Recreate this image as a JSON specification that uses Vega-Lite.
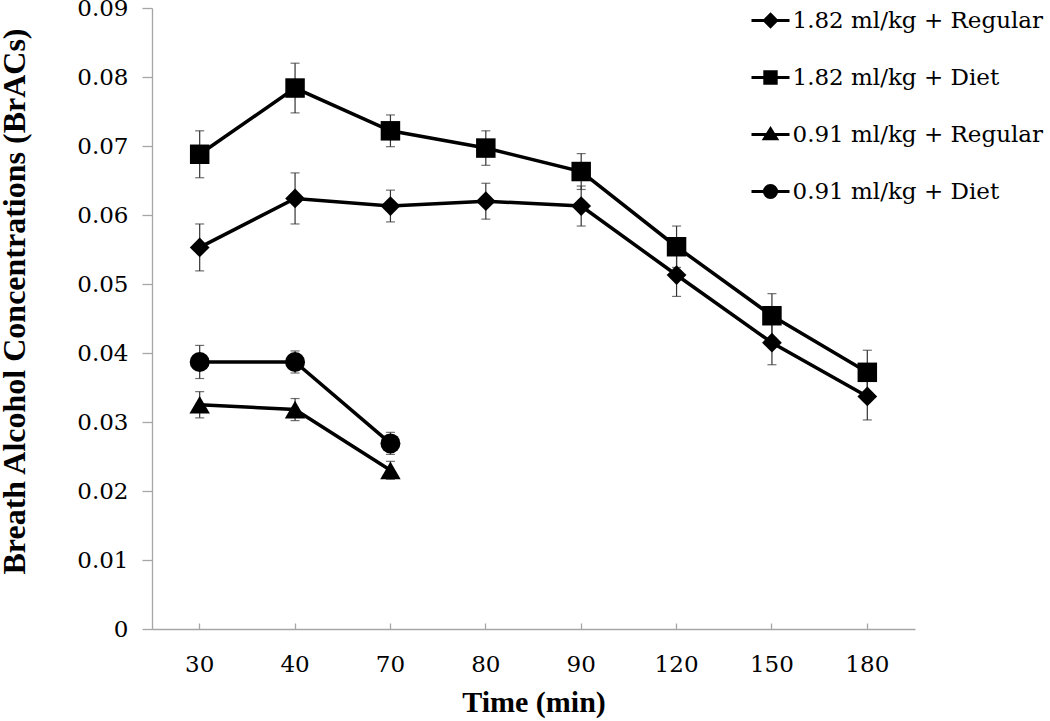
{
  "$schema": "https://vega.github.io/schema/vega-lite/v6.json",
  "autosize": {"type": "none"},
  "width": 763,
  "height": 621,
  "padding": {"left": 152, "top": 8, "right": 135, "bottom": 92},
  "background": "white",
  "config": {
    "view": {"stroke": null},
    "axis": {
      "domainColor": "#A6A6A6",
      "domainWidth": 1.3,
      "tickColor": "#A6A6A6",
      "tickWidth": 1.3,
      "grid": false,
      "labelFont": "DejaVu Serif",
      "labelFontSize": 23,
      "labelColor": "#000000",
      "titleFont": "Liberation Serif",
      "titleFontWeight": "bold",
      "titleColor": "#000000"
    },
    "legend": {
      "labelFont": "DejaVu Serif",
      "labelFontSize": 23,
      "labelColor": "#000000",
      "labelLimit": 500,
      "padding": 0
    }
  },
  "data": {
    "values": [
      {"series": "1.82 ml/kg + Regular", "time": "30", "v": 0.0553, "e": 0.0034},
      {"series": "1.82 ml/kg + Regular", "time": "40", "v": 0.0624, "e": 0.0037},
      {"series": "1.82 ml/kg + Regular", "time": "70", "v": 0.0613, "e": 0.0023},
      {"series": "1.82 ml/kg + Regular", "time": "80", "v": 0.0620, "e": 0.0026},
      {"series": "1.82 ml/kg + Regular", "time": "90", "v": 0.0613, "e": 0.0029},
      {"series": "1.82 ml/kg + Regular", "time": "120", "v": 0.0513, "e": 0.0031},
      {"series": "1.82 ml/kg + Regular", "time": "150", "v": 0.0415, "e": 0.0032},
      {"series": "1.82 ml/kg + Regular", "time": "180", "v": 0.0337, "e": 0.0034},
      {"series": "1.82 ml/kg + Diet", "time": "30", "v": 0.0688, "e": 0.0034},
      {"series": "1.82 ml/kg + Diet", "time": "40", "v": 0.0784, "e": 0.0036},
      {"series": "1.82 ml/kg + Diet", "time": "70", "v": 0.0722, "e": 0.0023},
      {"series": "1.82 ml/kg + Diet", "time": "80", "v": 0.0697, "e": 0.0025},
      {"series": "1.82 ml/kg + Diet", "time": "90", "v": 0.0663, "e": 0.0026},
      {"series": "1.82 ml/kg + Diet", "time": "120", "v": 0.0554, "e": 0.0030},
      {"series": "1.82 ml/kg + Diet", "time": "150", "v": 0.0454, "e": 0.0032},
      {"series": "1.82 ml/kg + Diet", "time": "180", "v": 0.0372, "e": 0.0032},
      {"series": "0.91 ml/kg + Regular", "time": "30", "v": 0.0325, "e": 0.0019},
      {"series": "0.91 ml/kg + Regular", "time": "40", "v": 0.0318, "e": 0.0016},
      {"series": "0.91 ml/kg + Regular", "time": "70", "v": 0.0230, "e": 0.0013},
      {"series": "0.91 ml/kg + Diet", "time": "30", "v": 0.0387, "e": 0.0024},
      {"series": "0.91 ml/kg + Diet", "time": "40", "v": 0.0387, "e": 0.0016},
      {"series": "0.91 ml/kg + Diet", "time": "70", "v": 0.0269, "e": 0.0016}
    ]
  },
  "encoding": {
    "x": {
      "field": "time",
      "type": "ordinal",
      "sort": ["30", "40", "70", "80", "90", "120", "150", "180"],
      "scale": {"type": "band", "paddingInner": 0, "paddingOuter": 0},
      "axis": {
        "title": "Time (min)",
        "titleFontSize": 30,
        "titlePadding": 11,
        "labelAngle": 0,
        "tickSize": -6,
        "labelPadding": 30,
        "tickBand": "center"
      }
    },
    "y": {
      "field": "v",
      "type": "quantitative",
      "title": "Breath Alcohol Concentrations (BrACs)",
      "scale": {"domain": [0, 0.09], "nice": false},
      "axis": {
        "titleFontSize": 32,
        "titlePadding": 45,
        "titleY": 293,
        "values": [0, 0.01, 0.02, 0.03, 0.04, 0.05, 0.06, 0.07, 0.08, 0.09],
        "labelExpr": "datum.value == 0 ? '0' : format(datum.value, '.2f')",
        "tickSize": 10,
        "labelPadding": 14
      }
    }
  },
  "layer": [
    {
      "mark": {"type": "errorbar", "ticks": {"size": 9, "color": "#333333", "thickness": 1.2}, "rule": {"color": "#333333", "strokeWidth": 1.2}},
      "encoding": {
        "y": {"field": "v", "type": "quantitative", "title": "Breath Alcohol Concentrations (BrACs)"},
        "yError": {"field": "e"},
        "detail": {"field": "series"}
      }
    },
    {
      "mark": {"type": "line", "color": "#000000", "strokeWidth": 3.5},
      "encoding": {
        "detail": {"field": "series"}
      }
    },
    {
      "transform": [{"filter": "datum.series == '1.82 ml/kg + Regular'"}],
      "mark": {"type": "point", "shape": "diamond", "filled": true, "color": "#000000", "opacity": 1, "size": 390},
      "encoding": {}
    },
    {
      "transform": [{"filter": "datum.series == '1.82 ml/kg + Diet'"}],
      "mark": {"type": "point", "shape": "square", "filled": true, "color": "#000000", "opacity": 1, "size": 380},
      "encoding": {}
    },
    {
      "transform": [{"filter": "datum.series == '0.91 ml/kg + Regular'"}],
      "mark": {"type": "point", "shape": "triangle-up", "filled": true, "color": "#000000", "opacity": 1, "size": 420},
      "encoding": {}
    },
    {
      "transform": [{"filter": "datum.series == '0.91 ml/kg + Diet'"}],
      "mark": {"type": "point", "shape": "circle", "filled": true, "color": "#000000", "opacity": 1, "size": 400},
      "encoding": {}
    },
    {
      "transform": [{"filter": "false"}],
      "mark": {"type": "point", "filled": false, "color": "#000000", "strokeWidth": 3, "opacity": 1, "size": 1444},
      "encoding": {
        "shape": {
          "field": "series",
          "type": "nominal",
          "scale": {
            "domain": ["1.82 ml/kg + Regular", "1.82 ml/kg + Diet", "0.91 ml/kg + Regular", "0.91 ml/kg + Diet"],
            "range": [
              "M-1,0H1M0,-0.32L0.32,0L0,0.32L-0.32,0ZM0,-0.256L0.256,0L0,0.256L-0.256,0ZM0,-0.192L0.192,0L0,0.192L-0.192,0ZM0,-0.128L0.128,0L0,0.128L-0.128,0ZM0,-0.064L0.064,0L0,0.064L-0.064,0Z",
              "M-1,0H1M-0.3,-0.3H0.3V0.3H-0.3ZM-0.24,-0.24H0.24V0.24H-0.24ZM-0.18,-0.18H0.18V0.18H-0.18ZM-0.12,-0.12H0.12V0.12H-0.12ZM-0.06,-0.06H0.06V0.06H-0.06Z",
              "M-1,0H1M0,-0.3L0.32,0.22L-0.32,0.22ZM0,-0.2125L0.24,0.1775L-0.24,0.1775ZM0,-0.125L0.16,0.135L-0.16,0.135ZM0,-0.0375L0.08,0.0925L-0.08,0.0925Z",
              "M-1,0H1M-0.32,0A0.32,0.32 0 1,0 0.32,0A0.32,0.32 0 1,0 -0.32,0ZM-0.24,0A0.24,0.24 0 1,0 0.24,0A0.24,0.24 0 1,0 -0.24,0ZM-0.16,0A0.16,0.16 0 1,0 0.16,0A0.16,0.16 0 1,0 -0.16,0ZM-0.08,0A0.08,0.08 0 1,0 0.08,0A0.08,0.08 0 1,0 -0.08,0Z"
            ]
          },
          "legend": {
            "title": null,
            "orient": "none",
            "legendX": 598,
            "legendY": -8,
            "symbolSize": 1444,
            "symbolStrokeColor": "#000000",
            "symbolStrokeWidth": 3,
            "symbolOpacity": 1,
            "rowPadding": 24,
            "labelOffset": 1.5
          }
        }
      }
    }
  ]
}
